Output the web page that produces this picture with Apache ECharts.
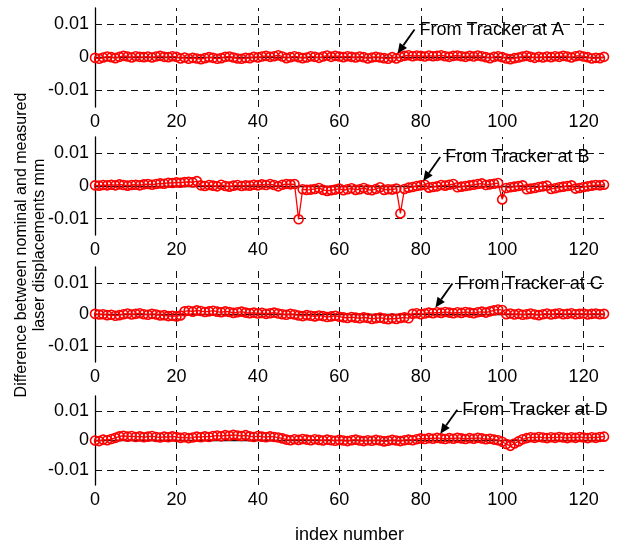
<!DOCTYPE html>
<html>
<head>
<meta charset="utf-8">
<script src="https://cdn.jsdelivr.net/npm/echarts@6/dist/echarts.min.js"></script>
<style>
  html, body { margin: 0; padding: 0; background: #fff; }
  #chart { width: 619px; height: 545px; }
</style>
</head>
<body>
<div id="chart"></div>
<script>
// tick values
const xTicks = [0, 20, 40, 60, 80, 100, 120];
const yTicks = [-0.01, 0, 0.01];
const trackers = ['A', 'B', 'C', 'D'];

// difference values (mm), index 0..125
const diffA = [
  -0.0001, -0.0004, 0.0000, 0.0003, 0.0001, -0.0002, 0.0002, 0.0005, 0.0003, 0.0000,
  0.0004, 0.0002, 0.0001, 0.0003, 0.0000, 0.0003, 0.0005, 0.0002, 0.0001, 0.0004,
  0.0002, -0.0003, 0.0000, -0.0004, -0.0001, -0.0003, -0.0005, -0.0002, 0.0001, -0.0001,
  -0.0004, -0.0002, 0.0002, 0.0003, 0.0000, -0.0003, -0.0004, -0.0001, -0.0002, 0.0002,
  0.0000, 0.0003, 0.0005, 0.0002, 0.0004, 0.0007, 0.0003, -0.0002, 0.0001, 0.0004,
  0.0001, -0.0002, 0.0000, 0.0004, 0.0002, -0.0001, 0.0003, 0.0006, 0.0002, 0.0005,
  0.0003, 0.0001, 0.0004, 0.0002, 0.0000, 0.0003, 0.0001, -0.0003, 0.0000, 0.0002,
  0.0000, -0.0002, -0.0004, 0.0001, -0.0003, 0.0002, 0.0005, 0.0007, 0.0004, 0.0006,
  0.0005, 0.0003, 0.0006, 0.0004, 0.0005, 0.0007, 0.0004, 0.0002, 0.0005, 0.0006,
  0.0004, 0.0002, 0.0005, 0.0003, 0.0006, 0.0004, 0.0001, -0.0002, 0.0002, 0.0004,
  0.0001, -0.0003, -0.0005, -0.0002, 0.0000, 0.0003, 0.0005, 0.0002, -0.0001, 0.0002,
  0.0000, 0.0003, 0.0001, 0.0004, 0.0002, 0.0005, 0.0003, 0.0000, 0.0004, 0.0006,
  0.0003, 0.0001, -0.0003, -0.0001, -0.0002, 0.0002
];
const diffB = [
  0.0002, 0.0001, 0.0003, 0.0002, 0.0004, 0.0002, 0.0005, 0.0003, 0.0001, 0.0003,
  0.0004, 0.0002, 0.0005, 0.0006, 0.0004, 0.0006, 0.0008, 0.0007, 0.0010, 0.0009,
  0.0011, 0.0010, 0.0012, 0.0013, 0.0011, 0.0015, 0.0002, 0.0000, 0.0003, 0.0001,
  -0.0001, 0.0004, 0.0000, -0.0002, 0.0001, 0.0003, 0.0000, 0.0002, 0.0001, 0.0004,
  0.0002, 0.0005, 0.0003, 0.0006, 0.0003, -0.0001, 0.0004, 0.0006, 0.0005, 0.0006,
  -0.0102, -0.0010, -0.0012, -0.0011, -0.0009, -0.0006, -0.0012, -0.0015, -0.0013, -0.0011,
  -0.0008, -0.0013, -0.0010, -0.0007, -0.0012, -0.0010, -0.0006, -0.0011, -0.0013, -0.0009,
  -0.0004, -0.0012, -0.0010, -0.0011, -0.0008, -0.0084, -0.0009, -0.0005, -0.0003, 0.0000,
  0.0002, 0.0004, -0.0005, -0.0003, -0.0001, 0.0003, 0.0001, 0.0004, 0.0006, -0.0004,
  -0.0002, 0.0000, 0.0002, 0.0004, 0.0006, 0.0008, 0.0003, 0.0005, 0.0007, 0.0009,
  -0.0041, -0.0006, -0.0004, -0.0002, 0.0000, 0.0002, -0.0010, -0.0008, -0.0006, -0.0003,
  -0.0001, 0.0001, -0.0009, -0.0007, -0.0004, -0.0002, 0.0000, 0.0002, -0.0008, -0.0006,
  -0.0003, -0.0001, 0.0001, 0.0003, 0.0002, 0.0004
];
const diffC = [
  0.0002, 0.0000, 0.0001, -0.0002, -0.0001, -0.0004, -0.0002, 0.0001, 0.0003, 0.0000,
  0.0002, 0.0004, 0.0001, -0.0001, 0.0002, 0.0000, -0.0003, -0.0002, -0.0005, -0.0004,
  -0.0006, -0.0003, 0.0010, 0.0012, 0.0009, 0.0013, 0.0011, 0.0008, 0.0010, 0.0012,
  0.0009, 0.0007, 0.0010, 0.0008, 0.0005, 0.0007, 0.0009, 0.0006, 0.0004, 0.0006,
  0.0003, 0.0005, 0.0002, 0.0004, 0.0006, 0.0003, 0.0001, -0.0001, 0.0002, 0.0000,
  -0.0003, -0.0005, -0.0002, -0.0004, -0.0006, -0.0003, -0.0005, -0.0008, -0.0006, -0.0004,
  -0.0007, -0.0009, -0.0011, -0.0008, -0.0010, -0.0012, -0.0009, -0.0011, -0.0014, -0.0012,
  -0.0010, -0.0013, -0.0015, -0.0012, -0.0014, -0.0011, -0.0009, -0.0012, 0.0002, 0.0004,
  0.0001, 0.0003, 0.0006, 0.0004, 0.0007, 0.0005, 0.0008, 0.0006, 0.0004, 0.0007,
  0.0005, 0.0008, 0.0006, 0.0004, 0.0007, 0.0009, 0.0006, 0.0010, 0.0013, 0.0016,
  0.0014, 0.0001, 0.0003, 0.0000, 0.0002, -0.0001, 0.0001, 0.0003, 0.0000, -0.0002,
  0.0001, 0.0003, 0.0000, 0.0002, 0.0004, 0.0001, 0.0002, 0.0004, 0.0001, 0.0002,
  0.0003, 0.0000, 0.0002, 0.0003, 0.0001, 0.0002
];
const diffD = [
  0.0000, -0.0002, 0.0003, 0.0001, 0.0005, 0.0009, 0.0014, 0.0016, 0.0013, 0.0015,
  0.0012, 0.0014, 0.0011, 0.0013, 0.0015, 0.0012, 0.0010, 0.0013, 0.0011, 0.0014,
  0.0012, 0.0009, 0.0011, 0.0008, 0.0010, 0.0013, 0.0011, 0.0014, 0.0012, 0.0015,
  0.0017, 0.0014, 0.0018, 0.0016, 0.0019, 0.0017, 0.0015, 0.0018, 0.0014, 0.0012,
  0.0015, 0.0013, 0.0011, 0.0014, 0.0012, 0.0010, 0.0007, 0.0003, 0.0001, 0.0004,
  0.0002, 0.0005, 0.0003, 0.0001, 0.0004, 0.0002, 0.0000, 0.0003, 0.0001, -0.0001,
  0.0002, 0.0000, -0.0002, 0.0001, 0.0003, 0.0000, -0.0002, 0.0001, -0.0001, 0.0002,
  0.0000, -0.0003, -0.0001, 0.0002, 0.0000, -0.0002, 0.0001, 0.0003, 0.0001, 0.0004,
  0.0007, 0.0005, 0.0008, 0.0006, 0.0009, 0.0007, 0.0005, 0.0008, 0.0006, 0.0009,
  0.0007, 0.0005, 0.0008, 0.0006, 0.0009, 0.0007, 0.0004, 0.0006, 0.0003, 0.0001,
  -0.0004, -0.0012, -0.0018, -0.0010, -0.0003, 0.0004, 0.0008, 0.0011, 0.0009, 0.0012,
  0.0010, 0.0008, 0.0011, 0.0009, 0.0012, 0.0010, 0.0008, 0.0011, 0.0009, 0.0012,
  0.0010, 0.0008, 0.0011, 0.0009, 0.0012, 0.0013
];
const allDiffs = [diffA, diffB, diffC, diffD];

// arrow target (index, value) for each "From Tracker" label
const arrowIndex = [74.3, 80.6, 83.6, 84.8];
const arrowValue = [0.0012, 0.0015, 0.0022, 0.0023];

const FONT = "'Liberation Sans', Arial, sans-serif";
const gridTops = [8, 137, 267, 396];
const gridHeights = [99, 98, 95, 95];

const chart = echarts.init(document.getElementById('chart'), null, { renderer: 'canvas' });

const grids = [], xAxes = [], yAxes = [], series = [];
allDiffs.forEach((vals, i) => {
  grids.push({ left: 95, width: 509, top: gridTops[i], height: gridHeights[i] });
  xAxes.push({
    type: 'value', gridIndex: i, min: 0, max: 125,
    axisLine: { lineStyle: { color: '#000', width: 1.3 } },
    axisTick: { inside: true, length: 4, customValues: xTicks, lineStyle: { color: '#000' } },
    axisLabel: { customValues: xTicks, color: '#000', fontSize: 18, fontFamily: FONT, margin: 6 },
    splitLine: { show: false },
    name: i === 3 ? 'index number' : '',
    nameLocation: 'middle', nameGap: 41,
    nameTextStyle: { color: '#000', fontSize: 18, fontFamily: FONT }
  });
  yAxes.push({
    type: 'value', gridIndex: i, min: -0.015, max: 0.015,
    axisLine: { show: true, lineStyle: { color: '#000', width: 1.3 } },
    axisTick: { show: true, inside: true, length: 4, customValues: yTicks, lineStyle: { color: '#000' } },
    axisLabel: { customValues: yTicks, color: '#000', fontSize: 18, fontFamily: FONT, margin: 6,
      formatter: v => (v === 0 ? '0' : String(v)) },
    splitLine: { show: false }
  });
  series.push({
    type: 'line', xAxisIndex: i, yAxisIndex: i,
    data: vals.map((v, k) => [k, v]),
    symbol: 'circle', symbolSize: 9, showAllSymbol: true,
    lineStyle: { color: '#ff0000', width: 1.3 },
    itemStyle: { color: 'rgba(0,0,0,0)', borderColor: '#ff0000', borderWidth: 1.6 },
    emphasis: { disabled: true },
    markLine: {
      silent: true, symbol: 'none', z: 1, animation: false,
      label: { show: false },
      lineStyle: { color: '#111', type: [7, 5], width: 1 },
      data: yTicks.map(v => ({ yAxis: v })).concat(xTicks.filter(v => v > 0).map(v => ({ xAxis: v })))
    }
  });
});

chart.setOption({
  animation: false,
  backgroundColor: '#fff',
  grid: grids,
  xAxis: xAxes,
  yAxis: yAxes,
  series: series
});

// y title and "From Tracker at X" labels with arrows
const graphics = [{
  type: 'text', id: 'ytitle', x: 31, y: 245, rotation: Math.PI / 2,
  style: {
    text: 'Difference between nominal and measured\nlaser displacements mm',
    fill: '#000', fontSize: 16, fontFamily: FONT, fontWeight: 'normal',
    align: 'center', verticalAlign: 'middle', lineHeight: 18
  }
}];
trackers.forEach((t, i) => {
  const head = chart.convertToPixel({ gridIndex: i }, [arrowIndex[i], arrowValue[i]]);
  const tail = [head[0] + 17, head[1] - 24];
  const dx = head[0] - tail[0], dy = head[1] - tail[1];
  const len = Math.sqrt(dx * dx + dy * dy);
  const ux = dx / len, uy = dy / len;
  const bx = head[0] - ux * 10, by = head[1] - uy * 10;
  graphics.push({
    type: 'line', id: 'arrowLine' + t, shape: { x1: tail[0], y1: tail[1], x2: bx, y2: by },
    style: { stroke: '#000', lineWidth: 1.8 }, z: 10
  });
  graphics.push({
    type: 'polygon', id: 'arrowHead' + t,
    shape: { points: [[head[0], head[1]], [bx - uy * 4.5, by + ux * 4.5], [bx + uy * 4.5, by - ux * 4.5]] },
    style: { fill: '#000' }, z: 10
  });
  graphics.push({
    type: 'text', id: 'note' + t, x: tail[0] + 5, y: tail[1],
    style: { text: 'From Tracker at ' + t, fill: '#000', fontSize: 18, fontFamily: FONT,
      fontWeight: 'normal', verticalAlign: 'middle' },
    z: 10
  });
});
chart.setOption({ graphic: graphics });
</script>
</body>
</html>
